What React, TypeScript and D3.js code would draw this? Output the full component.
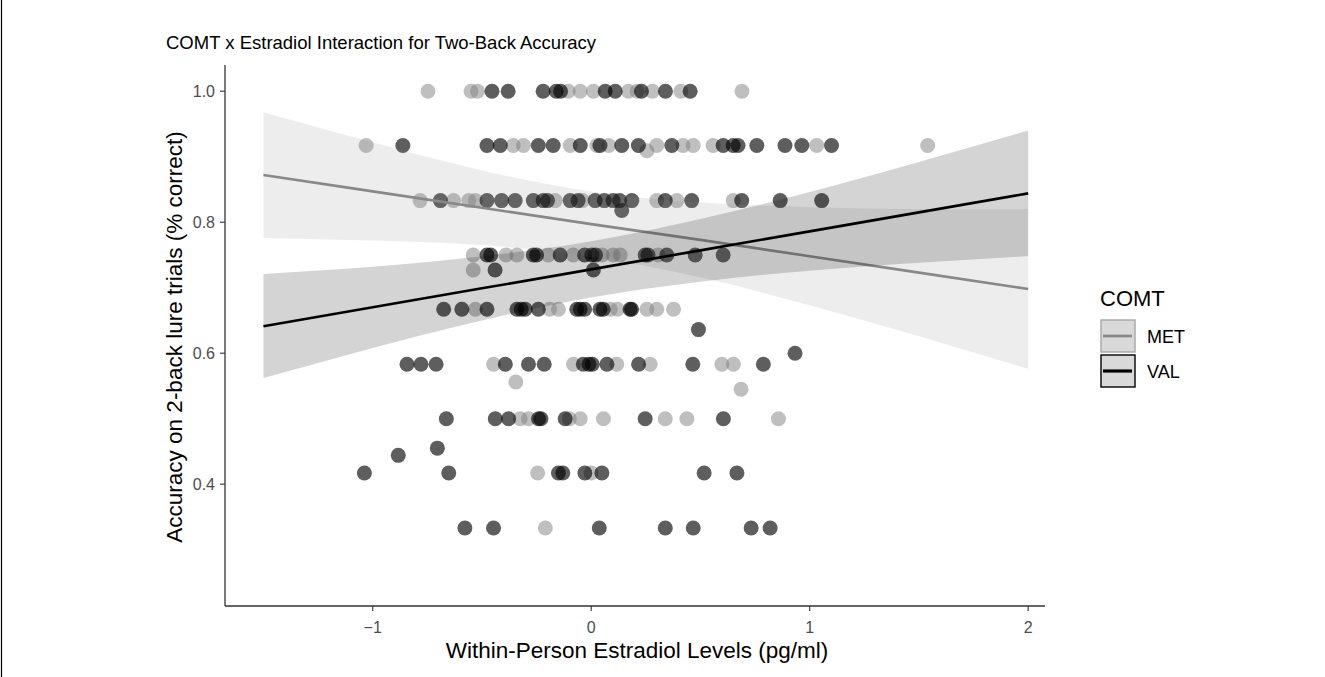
import * as d3 from "d3"
import { useMemo } from "react"

// accuracy levels (fraction correct) that the points sit on
const accuracyLevels = [1.0, 0.917, 0.833, 0.75, 0.667, 0.583, 0.5, 0.417, 0.333]

// within-person estradiol per accuracy level, MET carriers
const metByLevel = [
    [-0.747, -0.55, -0.52, -0.105, -0.05, 0.01, 0.17, 0.21, 0.28, 0.41, 0.69],
    [-1.03, -0.357, -0.31, -0.096, 0.026, 0.08, 0.30, 0.42, 0.467, 0.558, 1.032, 1.54],
    [-0.783, -0.63, -0.56, -0.53, -0.165, -0.04, 0.30, 0.392, 0.65],
    [-0.54, -0.39, -0.34, -0.197, -0.082, 0.05, 0.1, 0.133, 0.306],
    [-0.53, -0.19, -0.15, 0.087, 0.12, 0.255, 0.30, 0.377],
    [-0.447, -0.081, 0.117, 0.27, 0.598, 0.651],
    [-0.325, -0.287, -0.1, -0.05, 0.056, 0.339, 0.438, 0.857],
    [-0.245, 0.0],
    [-0.21],
]
// points off the main levels: [estradiol, accuracy]
const metExtra: [number, number][] = [[0.255, 0.909], [-0.54, 0.727], [-0.345, 0.556], [0.686, 0.545]]

// VAL carriers
const valByLevel = [
    [-0.454, -0.38, -0.22, -0.16, -0.14, 0.064, 0.11, 0.23, 0.34, 0.453],
    [-0.862, -0.477, -0.416, -0.242, -0.174, -0.05, 0.04, 0.14, 0.216, 0.369, 0.604, 0.65, 0.672, 0.758, 0.887, 0.964, 1.10],
    [-0.69, -0.477, -0.41, -0.348, -0.265, -0.22, -0.2, -0.096, -0.06, 0.018, 0.06, 0.1, 0.13, 0.186, 0.339, 0.46, 0.689, 0.865, 1.055],
    [-0.477, -0.46, -0.265, -0.25, -0.142, -0.03, 0.003, 0.02, 0.247, 0.26, 0.346, 0.476, 0.604],
    [-0.675, -0.592, -0.477, -0.34, -0.32, -0.302, -0.242, -0.066, -0.05, -0.03, 0.04, 0.055, 0.178, 0.185],
    [-0.843, -0.779, -0.71, -0.393, -0.287, -0.215, -0.036, -0.01, 0.005, 0.072, 0.217, 0.465, 0.788],
    [-0.663, -0.439, -0.378, -0.241, -0.23, -0.119, 0.247, 0.605],
    [-1.038, -0.652, -0.15, -0.13, -0.029, 0.049, 0.517, 0.667],
    [-0.578, -0.447, 0.037, 0.339, 0.467, 0.732, 0.819],
]
const valExtra: [number, number][] = [[0.14, 0.818], [-0.44, 0.727], [0.01, 0.727], [0.491, 0.636], [0.933, 0.6], [-0.883, 0.444], [-0.704, 0.455]]

// fitted lines + 95% bands
const fitX = [-1.5, -1, -0.5, 0, 0.5, 1, 1.5, 2]
const metFit = [0.872, 0.847, 0.822, 0.797, 0.773, 0.748, 0.723, 0.698]
const metLower = [0.776, 0.772, 0.765, 0.747, 0.716, 0.673, 0.626, 0.576]
const metUpper = [0.968, 0.922, 0.879, 0.847, 0.830, 0.823, 0.820, 0.820]
const valFit = [0.641, 0.670, 0.699, 0.728, 0.757, 0.786, 0.815, 0.844]
const valLower = [0.562, 0.608, 0.650, 0.685, 0.709, 0.726, 0.738, 0.748]
const valUpper = [0.721, 0.732, 0.748, 0.771, 0.805, 0.846, 0.892, 0.940]

const xTicks = [-1, 0, 1, 2]
const yTicks = [0.4, 0.6, 0.8, 1.0]
const groups = ["MET", "VAL"]

const W = 1325
const H = 677
const FONT = "'Liberation Sans', Arial, sans-serif"

const toPoints = (byLevel: number[][], extra: [number, number][]) => {
    const pts: [number, number][] = []
    byLevel.forEach((xs, i) => xs.forEach((e) => pts.push([e, accuracyLevels[i]])))
    return pts.concat(extra)
}

export default function App() {
    const x = d3.scaleLinear().domain([-1.676, 2.077]).range([225, 1045])
    const y = d3.scaleLinear().domain([0.214, 1.04]).range([606, 65])

    const metPts = useMemo(() => toPoints(metByLevel, metExtra), [])
    const valPts = useMemo(() => toPoints(valByLevel, valExtra), [])

    const band = (lo: number[], hi: number[]) =>
        d3.area<number>()
            .x((_, i) => x(fitX[i]))
            .y0((_, i) => y(lo[i]))
            .y1((_, i) => y(hi[i]))
            .curve(d3.curveNatural)(fitX) as string
    const line = (fit: number[]) =>
        d3.line<number>()
            .x((_, i) => x(fitX[i]))
            .y((_, i) => y(fit[i]))(fitX) as string

    const axisColor = "#333"
    const tickText = "#4d4d4d"

    return (
        <div style={{ position: "absolute", left: 0, top: 0 }}>
            <svg width={W} height={H} style={{ display: "block", background: "#fff" }} fontFamily={FONT}>
                {/* frame edge of the scanned figure */}
                <line x1={1.5} x2={1.5} y1={0} y2={H} stroke="#000" strokeWidth={1.2} />

                <text x={166} y={49} fontSize={18.5} fill="#000">COMT x Estradiol Interaction for Two-Back Accuracy</text>

                {/* points */}
                {metPts.map((p, i) => (
                    <circle key={"m" + i} cx={x(p[0])} cy={y(p[1])} r={7.5} fill="#7f7f7f" fillOpacity={0.5} />
                ))}
                {valPts.map((p, i) => (
                    <circle key={"v" + i} cx={x(p[0])} cy={y(p[1])} r={7.5} fill="#000" fillOpacity={0.63} />
                ))}

                {/* smooths */}
                <path d={band(metLower, metUpper)} fill="#888" fillOpacity={0.15} />
                <path d={line(metFit)} fill="none" stroke="#888" strokeWidth={2.6} />
                <path d={band(valLower, valUpper)} fill="#000" fillOpacity={0.17} />
                <path d={line(valFit)} fill="none" stroke="#000" strokeWidth={2.6} />

                {/* axes */}
                <line x1={225} x2={225} y1={65} y2={606} stroke={axisColor} strokeWidth={1.3} />
                <line x1={225} x2={1045} y1={606} y2={606} stroke={axisColor} strokeWidth={1.3} />
                {yTicks.map((t) => (
                    <g key={t}>
                        <line x1={220} x2={225} y1={y(t)} y2={y(t)} stroke={axisColor} strokeWidth={1.1} />
                        <text x={215} y={y(t)} dy="0.36em" textAnchor="end" fontSize={16} fill={tickText}>{t.toFixed(1)}</text>
                    </g>
                ))}
                {xTicks.map((t) => (
                    <g key={t}>
                        <line x1={x(t)} x2={x(t)} y1={606} y2={611} stroke={axisColor} strokeWidth={1.1} />
                        <text x={x(t)} y={633} textAnchor="middle" fontSize={16} fill={tickText}>{t < 0 ? "\u2212" + Math.abs(t) : t}</text>
                    </g>
                ))}
                <text x={637} y={658} textAnchor="middle" fontSize={22.5} fill="#000">Within-Person Estradiol Levels (pg/ml)</text>
                <text transform={`translate(182, 337) rotate(-90)`} textAnchor="middle" fontSize={22.5} fill="#000">Accuracy on 2-back lure trials (% correct)</text>

                {/* legend */}
                <text x={1100} y={306} fontSize={22} fill="#000">COMT</text>
                {groups.map((g, i) => {
                    const top = 320 + i * 35
                    return (
                        <g key={g}>
                            <rect x={1101} y={top} width={34} height={32} fill="#d9d9d9" stroke={i === 0 ? "#a6a6a6" : "#000"} strokeWidth={1.4} />
                            <line x1={1103} x2={1132} y1={top + 16} y2={top + 16} stroke={i === 0 ? "#888" : "#000"} strokeWidth={i === 0 ? 2.7 : 3.2} />
                            <text x={1147} y={top + 23} fontSize={18} fill="#000">{g}</text>
                        </g>
                    )
                })}
            </svg>
        </div>
    )
}
